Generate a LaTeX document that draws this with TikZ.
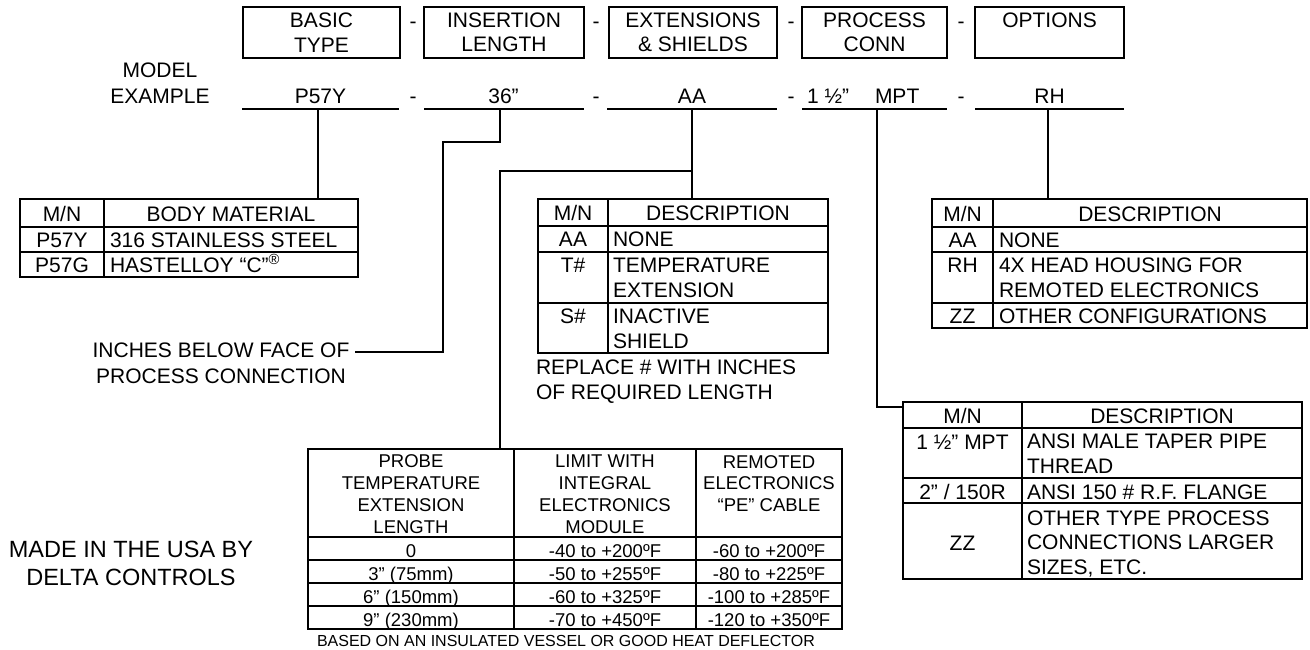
\documentclass[tikz,border=0pt]{standalone}
\usepackage{fontspec}
\setmainfont{Liberation Sans}
\begin{document}
\begin{tikzpicture}[x=1pt,y=-1pt,
  every node/.style={inner sep=0pt, outer sep=0pt},
  big/.style={font=\fontsize{21}{26}\selectfont},
  hbig/.style={font=\fontsize{21}{24.5}\selectfont},
  tab/.style={font=\fontsize{21}{24.5}\selectfont},
  small/.style={font=\fontsize{18.5}{21.7}\selectfont},
  hdrbox/.style={draw, line width=1.2pt, minimum height=51pt, align=center, hbig},
  frame/.style={draw, line width=1.2pt, anchor=north west},
  grid/.style={line width=1.2pt},
  conn/.style={line width=2.2pt},
  txt/.style={anchor=base, align=center, big},
  ltxt/.style={anchor=base west, align=left, tab},
  ctxt/.style={anchor=base, align=center, tab},
  stxt/.style={anchor=base, align=center, small},
  uline/.style={minimum height=0pt},
]
\useasboundingbox (0,0) rectangle (1310,650);

% header boxes
\node[hdrbox, minimum width=157pt] (h1) at (321.5,32.5) {BASIC\\TYPE};
\node[hdrbox, minimum width=160pt] (h2) at (504,32.5) {INSERTION\\LENGTH};
\node[hdrbox, minimum width=168pt] (h3) at (693,32.5) {EXTENSIONS\\\& SHIELDS};
\node[hdrbox, minimum width=145pt] (h4) at (874.5,32.5) {PROCESS\\CONN};
\node[hdrbox, minimum width=149pt] (h5) at (1049.5,32.5) {OPTIONS\\~};
\node[txt] (hd1) at (413,29) {-};
\node[txt] (hd2) at (596,29) {-};
\node[txt] (hd3) at (791,29) {-};
\node[txt] (hd4) at (961,29) {-};

% model example row (base = last line)
\node[txt] (lbl) at (160,104) {MODEL\\EXAMPLE};
\node[txt] (v1) at (320.5,104) {P57Y};
\node[txt] (v2) at (503.5,104) {36”};
\node[txt] (v3) at (692,104) {AA};
\node[anchor=base west, big] (v4) at (807,104) {1 ½”\hspace{26pt}MPT};
\node[txt] (v5) at (1049.5,104) {RH};
\node[txt] (md1) at (413,104) {-};
\node[txt] (md2) at (596,104) {-};
\node[txt] (md3) at (791,104) {-};
\node[txt] (md4) at (961,104) {-};
\node[uline, minimum width=157pt] (u1) at (320.5,109) {};
\node[uline, minimum width=160pt] (u2) at (504,109) {};
\node[uline, minimum width=170pt] (u3) at (692,109) {};
\node[uline, minimum width=145pt] (u4) at (874.5,109) {};
\node[uline, minimum width=149pt] (u5) at (1049.5,109) {};
\foreach \u in {u1,u2,u3,u4,u5} \draw[grid] (\u.west) -- (\u.east);

% table 1 : body material
\node[frame, minimum width=338pt, minimum height=78pt] (t1) at (20,199) {};
\draw[grid] (104,199) -- (104,277);
\draw[grid] (20,227) -- (358,227);
\draw[grid] (20,252) -- (358,252);
\node[ctxt] at (62,222) {M/N};
\node[ctxt] at (231,222) {BODY MATERIAL};
\node[ctxt] at (62,247) {P57Y};
\node[ltxt] at (110,247) {316 STAINLESS STEEL};
\node[ctxt] at (62,272) {P57G};
\node[ltxt] at (110,272) {HASTELLOY “C”\textsuperscript{®}};

% table 2 : extensions
\node[frame, minimum width=290pt, minimum height=154pt] (t2) at (538,199) {};
\draw[grid] (608,199) -- (608,353);
\foreach \yy in {226,252,303} \draw[grid] (538,\yy) -- (828,\yy);
\node[ctxt] at (573,221) {M/N};
\node[ctxt] at (718,221) {DESCRIPTION};
\node[ctxt] at (573,246) {AA};
\node[ltxt] at (613,246) {NONE};
\node[ctxt] at (573,272) {T\#};
\node[ltxt] at (613,297) {TEMPERATURE\\EXTENSION};
\node[ctxt] at (573,323) {S\#};
\node[ltxt] at (613,348) {INACTIVE\\SHIELD};
\node[ltxt] (rep) at (536,399) {REPLACE \# WITH INCHES\\OF REQUIRED LENGTH};

% table 3 : options
\node[frame, minimum width=375pt, minimum height=129pt] (t3) at (932,199) {};
\draw[grid] (993,199) -- (993,328);
\foreach \yy in {227,252,303} \draw[grid] (932,\yy) -- (1307,\yy);
\node[ctxt] at (962.5,222) {M/N};
\node[ctxt] at (1150,222) {DESCRIPTION};
\node[ctxt] at (962.5,247) {AA};
\node[ltxt] at (999,247) {NONE};
\node[ctxt] at (962.5,272) {RH};
\node[ltxt] at (999,297) {4X HEAD HOUSING FOR\\REMOTED ELECTRONICS};
\node[ctxt] at (962.5,323) {ZZ};
\node[ltxt] at (999,323) {OTHER CONFIGURATIONS};

% table 5 : process connection
\node[frame, minimum width=399pt, minimum height=177pt] (t5) at (903,402) {};
\draw[grid] (1022,402) -- (1022,579);
\foreach \yy in {428,478,503} \draw[grid] (903,\yy) -- (1302,\yy);
\node[ctxt] at (962.5,423) {M/N};
\node[ctxt] at (1162,423) {DESCRIPTION};
\node[ctxt] at (962.5,449) {1 ½” MPT};
\node[ltxt] at (1027,473) {ANSI MALE TAPER PIPE\\THREAD};
\node[ctxt] at (962.5,499) {2” / 150R};
\node[ltxt] at (1027,499) {ANSI 150 \# R.F. FLANGE};
\node[ctxt] at (962.5,550) {ZZ};
\node[ltxt] at (1027,574) {OTHER TYPE PROCESS\\CONNECTIONS LARGER\\SIZES, ETC.};

% table 4 : temperature limits
\node[frame, minimum width=534pt, minimum height=180pt] (t4) at (308,449) {};
\draw[grid] (514,449) -- (514,629);
\draw[grid] (696,449) -- (696,629);
\foreach \yy in {537,560,583,606} \draw[grid] (308,\yy) -- (842,\yy);
\node[stxt] at (411,533) {PROBE\\TEMPERATURE\\EXTENSION\\LENGTH};
\node[stxt] at (605,533) {LIMIT WITH\\INTEGRAL\\ELECTRONICS\\MODULE};
\node[stxt] at (769,511.4) {REMOTED\\ELECTRONICS\\“PE” CABLE};
\node[stxt] at (411,557) {0};
\node[stxt] at (605,557) {-40 to +200ºF};
\node[stxt] at (769,557) {-60 to +200ºF};
\node[stxt] at (411,580) {3” (75mm)};
\node[stxt] at (605,580) {-50 to +255ºF};
\node[stxt] at (769,580) {-80 to +225ºF};
\node[stxt] at (411,603) {6” (150mm)};
\node[stxt] at (605,603) {-60 to +325ºF};
\node[stxt] at (769,603) {-100 to +285ºF};
\node[stxt] at (411,626) {9” (230mm)};
\node[stxt] at (605,626) {-70 to +450ºF};
\node[stxt] at (769,626) {-120 to +350ºF};
\node[anchor=base west, font=\fontsize{16}{19}\selectfont] (note) at (317,646) {BASED ON AN INSULATED VESSEL OR GOOD HEAT DEFLECTOR};

% free texts (base = last line)
\node[txt] (inch) at (221,383) {INCHES BELOW FACE OF\\PROCESS CONNECTION};
\node[anchor=base, align=center, font=\fontsize{23.5}{28}\selectfont] (made) at (131,585) {MADE IN THE USA BY\\DELTA CONTROLS};

% connectors
\path ([xshift=-2.5pt]u1.center) coordinate (a1);
\path ([xshift=-4pt]u2.center) coordinate (a2);
\path (u3.center) coordinate (a3);
\path ([xshift=2.5pt]u4.center) coordinate (a4);
\path ([xshift=-1.5pt]u5.center) coordinate (a5);
\coordinate (k1) at (443,142);
\coordinate (ie) at (355,352);
\coordinate (k2) at (500,171);
\draw[conn] (a1) -- (a1 |- t1.north);
\draw[conn] (a2) |- (k1) |- (ie);
\draw[conn] (a3) -- (a3 |- t2.north);
\draw[conn] (a3 |- k2) -- (k2) -- (k2 |- t4.north);
\draw[conn] (a4) |- ([yshift=-5pt]t5.north west);
\draw[conn] (a5) -- (a5 |- t3.north);
\end{tikzpicture}
\end{document}
